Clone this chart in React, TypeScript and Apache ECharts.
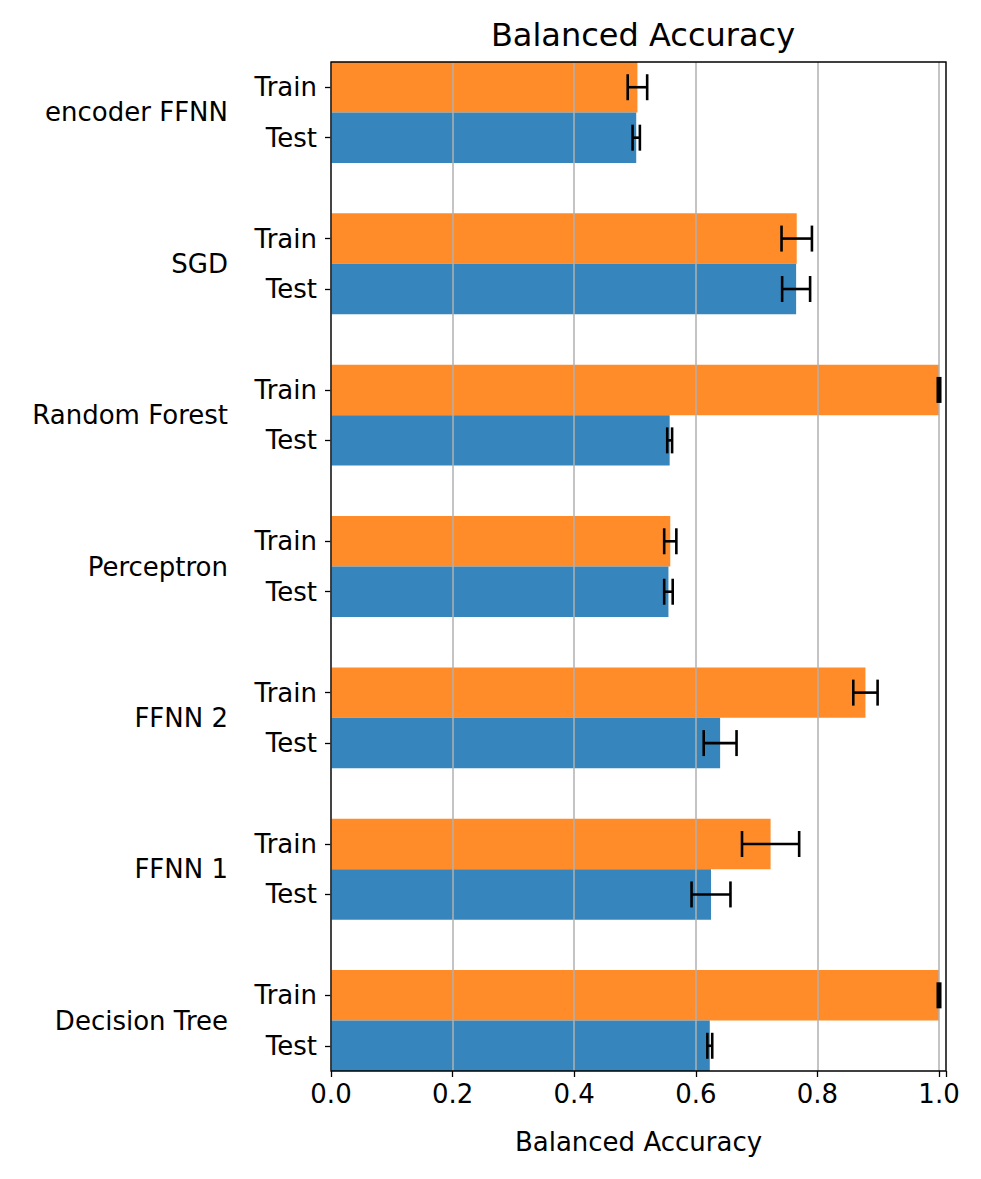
import { useEffect, useRef } from "react";
import * as echarts from "echarts";

const groups = ["encoder FFNN", "SGD", "Random Forest", "Perceptron", "FFNN 2", "FFNN 1", "Decision Tree"];
const trainValues = [0.504, 0.766, 1.0, 0.558, 0.879, 0.723, 1.0];
const trainErrors = [0.016, 0.025, 0.002, 0.01, 0.02, 0.047, 0.002];
const testValues = [0.502, 0.765, 0.557, 0.555, 0.64, 0.625, 0.623];
const testErrors = [0.006, 0.023, 0.004, 0.007, 0.027, 0.032, 0.004];
const xTicks = [0, 0.2, 0.4, 0.6, 0.8, 1.0];

const FONT = "DejaVu Sans";
const TICK = 26;

export default function App() {
  const chartRef = useRef<HTMLDivElement>(null);

  useEffect(() => {
    if (!chartRef.current) return;
    document.body.style.margin = "0";
    const chart = echarts.init(chartRef.current, null, { renderer: "svg" });

    // 3 slots per group: Train, Test, gap (last gap dropped)
    const slots: string[] = [];
    groups.forEach((_, g) => {
      slots.push("Train", "Test");
      if (g < groups.length - 1) slots.push("");
    });
    const trainData = slots.map((_, i) => (i % 3 === 0 ? trainValues[i / 3] : "-"));
    const testData = slots.map((_, i) => (i % 3 === 1 ? testValues[(i - 1) / 3] : "-"));
    const errData: number[][] = [];
    groups.forEach((_, g) => {
      errData.push([trainValues[g], 3 * g, trainErrors[g]]);
      errData.push([testValues[g], 3 * g + 1, testErrors[g]]);
    });

    const option: echarts.EChartsOption = {
      animation: false,
      title: {
        text: "Balanced Accuracy",
        left: 638,
        top: 14,
        textAlign: "center",
        textStyle: { fontFamily: FONT, fontSize: 32, fontWeight: "normal", color: "#000" },
      },
      grid: { left: 331, right: 35, top: 62, bottom: 108, show: true, borderColor: "#000", borderWidth: 1.3, z: 10 },
      xAxis: {
        type: "value",
        min: 0,
        max: 1.0115,
        interval: 0.2,
        z: 3,
        name: "Balanced Accuracy",
        nameLocation: "middle",
        nameGap: 58,
        nameTextStyle: { fontFamily: FONT, fontSize: TICK, color: "#000" },
        axisLine: { show: false, onZero: false },
        axisTick: { show: true, length: 6, lineStyle: { color: "#000", width: 1.3 } },
        axisLabel: {
          fontFamily: FONT,
          fontSize: TICK,
          color: "#000",
          margin: 10,
          formatter: (v: number) => (xTicks.some((t) => Math.abs(t - v) < 1e-6) ? v.toFixed(1) : ""),
        },
        splitLine: { show: true, lineStyle: { color: "#b0b0b0", width: 1.5 } },
      },
      yAxis: [
        {
          type: "category",
          data: slots,
          inverse: true,
          axisLine: { show: false },
          axisTick: {
            show: true,
            alignWithLabel: true,
            length: 6,
            lineStyle: { color: "#000", width: 1.3 },
            interval: (i: number) => i % 3 !== 2,
          },
          axisLabel: { fontFamily: FONT, fontSize: TICK, color: "#000", margin: 14, interval: 0 },
        },
        {
          type: "value",
          position: "left",
          inverse: true,
          min: -0.5,
          max: 19.5,
          interval: 0.5,
          offset: 95,
          axisLine: { show: false },
          axisTick: { show: false },
          splitLine: { show: false },
          axisLabel: {
            fontFamily: FONT,
            fontSize: TICK,
            color: "#000",
            margin: 8,
            formatter: (v: number) => {
              const g = (v - 0.5) / 3;
              return Number.isInteger(Math.round(g * 1000) / 1000) && g >= 0 && g < groups.length
                ? groups[Math.round(g)]
                : "";
            },
          },
        },
      ],
      series: [
        { type: "bar", name: "Train", data: trainData, barWidth: "100%", barGap: "-100%", itemStyle: { color: "#ff8c29" }, z: 2 },
        { type: "bar", name: "Test", data: testData, barWidth: "100%", barGap: "-100%", itemStyle: { color: "#3686bd" }, z: 2 },
        {
          type: "custom",
          data: errData,
          z: 5,
          renderItem: (params: any, api: any) => {
            const v = api.value(0);
            const c = api.value(1);
            const e = api.value(2);
            const p1 = api.coord([v - e, c]);
            const p2 = api.coord([v + e, c]);
            const h = 13;
            const style = { stroke: "#000", lineWidth: 2.6 };
            return {
              type: "group",
              children: [
                { type: "line", shape: { x1: p1[0], y1: p1[1], x2: p2[0], y2: p2[1] }, style },
                { type: "line", shape: { x1: p1[0], y1: p1[1] - h, x2: p1[0], y2: p1[1] + h }, style },
                { type: "line", shape: { x1: p2[0], y1: p2[1] - h, x2: p2[0], y2: p2[1] + h }, style },
              ],
            };
          },
        },
      ],
    };
    chart.setOption(option);
    return () => chart.dispose();
  }, []);

  return <div ref={chartRef} style={{ width: 981, height: 1179 }} />;
}
